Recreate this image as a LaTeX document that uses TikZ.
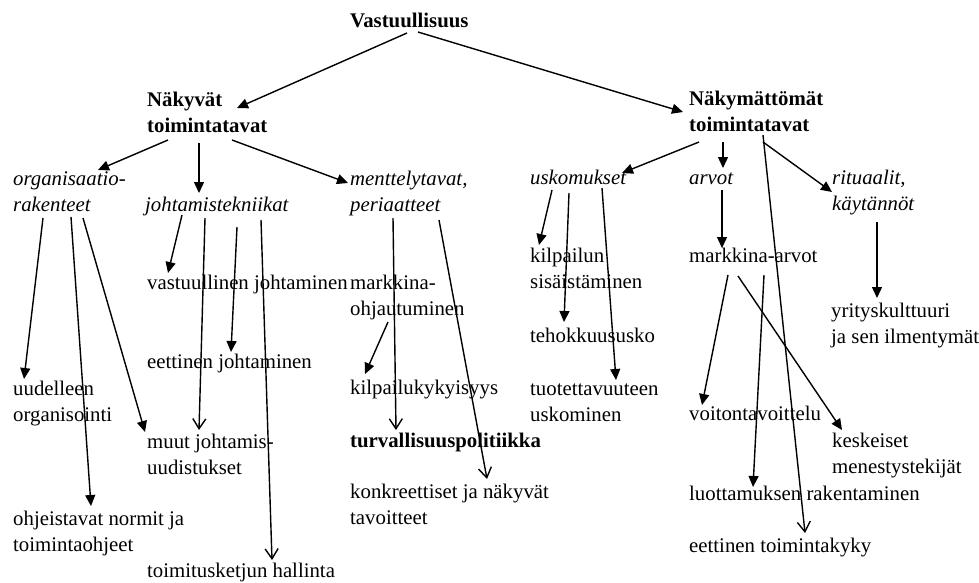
\documentclass[tikz,border=0pt]{standalone}
\usepackage{fontspec}
\setmainfont{Liberation Serif}
\usetikzlibrary{arrows.meta}
% two stacked lines whose baseline is that of the first line
\newcommand\twolines[2]{\vtop{\hbox{#1}\hbox{#2}}}
\tikzset{
  lbl/.style={anchor=base west, inner sep=0pt,
    font=\fontsize{20.8}{26}\selectfont},
  hdr/.style={lbl, font=\fontsize{20.8}{26}\selectfont\bfseries},
  cat/.style={lbl, font=\fontsize{20.8}{26}\selectfont\itshape},
  arr/.style={line width=1.4pt, -{Triangle[length=11pt,width=10pt]}},
  arro/.style={line width=1.4pt, -{Straight Barb[length=10pt,width=13pt,line width=1.4pt]}},
}
\begin{document}
\begin{tikzpicture}[x=1pt,y=-1pt]
\useasboundingbox (0,0) rectangle (979,582);

% top level
\node[hdr] (vas) at (350,27) {Vastuullisuus};
\node[hdr] (nak) at (147,106) {\twolines{Näkyvät}{toimintatavat}};
\node[hdr] (nkm) at (689,105) {\twolines{Näkymättömät}{toimintatavat}};

% categories
\node[cat] (org) at (13,185) {\twolines{organisaatio-}{rakenteet}};
\node[cat] (joh) at (145,211) {johtamistekniikat};
\node[cat] (men) at (350,185) {\twolines{menttelytavat,}{periaatteet}};
\node[cat] (usk) at (530,184) {uskomukset};
\node[cat] (arv) at (689,184) {arvot};
\node[cat] (rit) at (832,184) {\twolines{rituaalit,}{käytännöt}};

% items
\node[lbl] (vjo) at (147,289) {vastuullinen johtaminen};
\node[lbl] (mko) at (350,289) {\twolines{markkina-}{ohjautuminen}};
\node[lbl] (kil) at (530,262) {\twolines{kilpailun}{sisäistäminen}};
\node[lbl] (mka) at (689,262) {markkina-arvot};
\node[lbl] (yri) at (831,317) {\twolines{yrityskulttuuri}{ja sen ilmentymät}};
\node[lbl] (teh) at (530,342) {tehokkuususko};
\node[lbl] (ejo) at (147,368) {eettinen johtaminen};
\node[lbl] (uud) at (13,395) {\twolines{uudelleen}{organisointi}};
\node[lbl] (kky) at (350,394) {kilpailukykyisyys};
\node[lbl] (tuo) at (530,395) {\twolines{tuotettavuuteen}{uskominen}};
\node[lbl] (voi) at (689,420) {voitontavoittelu};
\node[lbl] (kes) at (832,447) {\twolines{keskeiset}{menestystekijät}};
\node[hdr] (tur) at (350,447) {turvallisuuspolitiikka};
\node[lbl] (muu) at (147,448) {\twolines{muut johtamis-}{uudistukset}};
\node[lbl] (kon) at (350,498) {\twolines{konkreettiset ja näkyvät}{tavoitteet}};
\node[lbl] (luo) at (689,500) {luottamuksen rakentaminen};
\node[lbl] (ohj) at (13,525) {\twolines{ohjeistavat normit ja}{toimintaohjeet}};
\node[lbl] (eto) at (689,552) {eettinen toimintakyky};
\node[lbl] (toi) at (147,577) {toimitusketjun hallinta};

% connectors from the root
\draw[arr] ([shift={(57,6)}]vas.base west) -- ([shift={(90,2)}]nak.base west);
\draw[arr] ([shift={(68,5)}]vas.base west) -- ([shift={(-6,7)}]nkm.base west);

% visible practices
\draw[arr] ([shift={(21,34)}]nak.base west) -- ([shift={(85,-15)}]org.base west);
\draw[arr] ([shift={(52,37)}]nak.base west) -- ([shift={(54,-18)}]joh.base west);
\draw[arr] ([shift={(85,34)}]nak.base west) -- ([shift={(-2,-2)}]men.base west);

% invisible practices
\draw[arr] ([shift={(10,37)}]nkm.base west) -- ([shift={(92,-11)}]usk.base west);
\draw[arr] ([shift={(34,37)}]nkm.base west) -- ([shift={(34,-16)}]arv.base west);
\draw[arr] ([shift={(74,37)}]nkm.base west) -- ([shift={(0,8)}]rit.base west);
\draw[arro] ([shift={(74,30)}]nkm.base west) -- ([shift={(116,-19)}]eto.base west);

% organisational structures
\draw[arr] ([shift={(30,33)}]org.base west) -- ([shift={(11,-16)}]uud.base west);
\draw[arr] ([shift={(58,32)}]org.base west) -- ([shift={(78,-19)}]ohj.base west);
\draw[arr] ([shift={(70,33)}]org.base west) -- ([shift={(-2,-16)}]muu.base west);

% management techniques
\draw[arr] ([shift={(37,4)}]joh.base west) -- ([shift={(21,-16)}]vjo.base west);
\draw[arro] ([shift={(60,7)}]joh.base west) -- ([shift={(52,-18)}]muu.base west);
\draw[arr] ([shift={(92,16)}]joh.base west) -- ([shift={(84,-16)}]ejo.base west);
\draw[arro] ([shift={(116,9)}]joh.base west) -- ([shift={(125,-17)}]toi.base west);

% procedures and principles
\draw[arro] ([shift={(43,33)}]men.base west) -- ([shift={(46,-17)}]tur.base west);
\draw[arro] ([shift={(89,35)}]men.base west) -- ([shift={(137,-19)}]kon.base west);
\draw[arr] ([shift={(38,33)}]mko.base west) -- ([shift={(15,-20)}]kky.base west);

% beliefs
\draw[arr] ([shift={(22,6)}]usk.base west) -- ([shift={(9,-17)}]kil.base west);
\draw[arr] ([shift={(39,9)}]usk.base west) -- ([shift={(34,-20)}]teh.base west);
\draw[arr] ([shift={(72,4)}]usk.base west) -- ([shift={(86,-15)}]tuo.base west);

% values and rituals
\draw[arr] ([shift={(33,6)}]arv.base west) -- ([shift={(33,-14)}]mka.base west);
\draw[arr] ([shift={(45,38)}]rit.base west) -- ([shift={(46,-19)}]yri.base west);
\draw[arr] ([shift={(39,13)}]mka.base west) -- ([shift={(13,-15)}]voi.base west);
\draw[arr] ([shift={(49,14)}]mka.base west) -- ([shift={(10,-17)}]kes.base west);
\draw[arr] ([shift={(75,13)}]mka.base west) -- ([shift={(64,-13)}]luo.base west);
\end{tikzpicture}
\end{document}
